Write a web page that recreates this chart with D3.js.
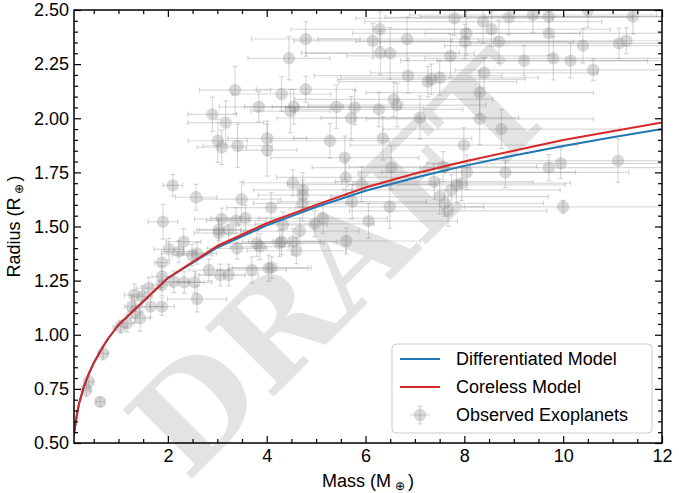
<!DOCTYPE html>
<html lang="en">
<head>
  <meta charset="UTF-8" />
  <title>Mass-Radius relation</title>
  <script src="https://d3js.org/d3.v7.min.js"></script>
  <style>
    body { margin: 0; background: #fff; }
    svg { display: block; font-family: "Liberation Sans", Arial, sans-serif; }
    .axis text { font-size: 18px; fill: #000; }
    .axis path { display: none; }
    .axis line { stroke: #000; stroke-width: 1.2; }
  </style>
</head>
<body>
  <div id="chart"></div>

  <script>
    // model curves
    const modelMass = [0.1, 0.15, 0.2, 0.3, 0.4, 0.5, 0.6, 0.7, 0.8, 0.9, 1, 2, 3, 4, 5, 6, 7, 8, 9, 10, 11, 12];
    const diffRadius = [0.54, 0.62, 0.68, 0.76, 0.82, 0.87, 0.91, 0.95, 0.985, 1.015, 1.045, 1.262, 1.403, 1.505, 1.59, 1.665, 1.725, 1.78, 1.828, 1.872, 1.912, 1.95];
    const corelessRadius = [0.54, 0.62, 0.68, 0.76, 0.82, 0.87, 0.91, 0.95, 0.985, 1.015, 1.045, 1.262, 1.41, 1.515, 1.60, 1.68, 1.745, 1.80, 1.85, 1.90, 1.94, 1.98];

    // observed exoplanets
    const obsMass = [0.35, 0.40, 0.63, 0.69, 1.04, 1.17, 1.27, 1.32, 1.34, 1.44, 1.48, 1.61, 1.65, 1.88, 1.88, 1.88, 1.88, 1.90, 2.02, 2.10,
      2.12, 2.22, 2.32, 2.33, 2.49, 2.54, 2.57, 2.59, 2.59, 2.83, 2.90, 3.01, 3.03, 3.03, 3.06, 3.09, 3.09, 3.17, 3.23, 3.23,
      3.36, 3.38, 3.40, 3.41, 3.49, 3.57, 3.70, 3.80, 3.84, 3.86, 4.01, 4.01, 4.04, 4.09, 4.10, 4.26, 4.30, 4.30, 4.33, 4.45,
      4.48, 4.53, 4.53, 4.55, 4.60, 4.67, 4.73, 4.73, 4.73, 4.79, 4.79, 4.97, 5.14, 5.28, 5.41, 5.58, 5.60, 5.61, 5.71, 5.73,
      5.78, 5.92, 6.06, 6.15, 6.27, 6.29, 6.30, 6.35, 6.49, 6.50, 6.52, 6.57, 6.64, 6.84, 6.86, 7.10, 7.26, 7.33, 7.39, 7.50,
      7.50, 7.57, 7.60, 7.67, 7.72, 7.74, 7.80, 7.84, 7.95, 7.99, 8.01, 8.04, 8.05, 8.31, 8.31, 8.38, 8.40, 8.55, 8.70, 8.75,
      8.83, 8.90, 9.21, 9.39, 9.71, 9.71, 9.71, 9.80, 9.95, 10.0, 10.15, 10.40, 10.50, 10.61, 11.11, 11.13, 11.28, 11.41];
    const obsRadius = [0.745, 0.783, 0.69, 0.914, 1.037, 1.053, 1.13, 1.184, 1.106, 1.076, 1.176, 1.215, 1.13, 1.13, 1.23, 1.268, 1.333, 1.522, 1.395, 1.69,
      1.245, 1.384, 1.43, 1.242, 1.368, 1.242, 1.635, 1.376, 1.165, 1.299, 2.018, 1.896, 1.469, 1.484, 1.276, 1.866, 1.535, 1.98, 1.276, 1.484,
      2.13, 1.527, 1.399, 1.873, 1.626, 1.539, 1.299, 1.422, 2.053, 1.407, 1.907, 1.853, 1.307, 1.587, 1.31, 1.422, 2.112, 1.43, 1.507, 2.277,
      2.033, 1.702, 1.43, 2.053, 1.388, 1.479, 1.669, 1.645, 1.607, 2.366, 2.134, 1.512, 1.538, 1.896, 2.053, 1.818, 1.727, 1.433, 2.0, 1.615,
      2.05, 1.695, 1.525, 2.357, 2.041, 2.411, 2.302, 1.907, 1.591, 2.30, 1.772, 2.087, 2.061, 2.366, 2.197, 2.003, 2.169, 2.18, 1.707, 2.187,
      1.638, 1.776, 1.607, 1.572, 2.288, 1.669, 2.462, 1.692, 1.70, 1.876, 2.354, 2.392, 1.75, 2.118, 1.997, 2.446, 2.21, 2.411, 2.354, 1.95,
      1.75, 2.466, 2.266, 2.477, 2.469, 2.392, 1.772, 2.277, 1.792, 1.591, 2.266, 2.335, 2.50, 2.223, 1.804, 2.346, 2.358, 2.469];
    const obsMassErr = [0.08, 0.08, 0.08, 0.10, 0.15, 0.15, 0.15, 0.20, 0.15, 0.20, 0.20, 0.25, 0.25, 0.25, 0.20, 0.20, 0.15, 0.30, 0.30, 0.20,
      0.30, 0.35, 0.35, 0.40, 0.40, 0.35, 0.42, 0.40, 0.60, 0.40, 0.49, 0.60, 0.50, 0.45, 0.50, 0.50, 0.55, 0.77, 0.60, 0.60,
      0.72, 0.60, 0.60, 0.70, 0.80, 0.70, 0.70, 0.70, 0.80, 0.60, 0.80, 0.60, 0.80, 0.90, 0.80, 0.90, 1.00, 0.80, 0.90, 0.83,
      0.80, 1.00, 0.90, 1.00, 1.00, 1.20, 1.00, 0.90, 1.00, 1.10, 1.00, 1.20, 1.30, 1.20, 1.30, 1.50, 1.40, 1.50, 1.50, 1.50,
      1.40, 1.50, 1.80, 1.60, 1.70, 1.80, 1.60, 1.80, 1.90, 1.70, 1.60, 2.00, 1.80, 1.80, 1.90, 2.00, 1.80, 1.90, 2.00, 2.00,
      2.20, 1.90, 2.00, 2.00, 2.10, 2.20, 2.00, 2.20, 2.20, 2.30, 2.20, 2.30, 2.20, 2.30, 2.30, 2.40, 2.30, 2.40, 2.40, 2.40,
      2.50, 2.50, 2.50, 2.50, 2.60, 2.50, 2.60, 2.60, 2.70, 2.00, 2.70, 2.80, 2.80, 2.80, 3.00, 3.00, 3.00, 3.00];
    const obsRadiusErr = [0.03, 0.03, 0.02, 0.03, 0.03, 0.04, 0.05, 0.05, 0.05, 0.06, 0.05, 0.05, 0.05, 0.04, 0.05, 0.05, 0.04, 0.08, 0.05, 0.05,
      0.05, 0.05, 0.06, 0.05, 0.05, 0.05, 0.06, 0.05, 0.06, 0.05, 0.08, 0.10, 0.06, 0.05, 0.05, 0.08, 0.05, 0.10, 0.05, 0.05,
      0.11, 0.06, 0.05, 0.10, 0.08, 0.06, 0.06, 0.06, 0.07, 0.06, 0.08, 0.12, 0.06, 0.07, 0.05, 0.06, 0.08, 0.06, 0.06, 0.10,
      0.10, 0.06, 0.06, 0.08, 0.06, 0.06, 0.08, 0.07, 0.08, 0.08, 0.06, 0.06, 0.07, 0.08, 0.10, 0.10, 0.08, 0.06, 0.10, 0.08,
      0.08, 0.08, 0.08, 0.08, 0.08, 0.08, 0.10, 0.10, 0.10, 0.12, 0.10, 0.08, 0.10, 0.10, 0.08, 0.10, 0.07, 0.07, 0.08, 0.08,
      0.08, 0.07, 0.06, 0.07, 0.10, 0.07, 0.08, 0.08, 0.08, 0.08, 0.08, 0.10, 0.08, 0.10, 0.12, 0.10, 0.07, 0.08, 0.10, 0.09,
      0.07, 0.08, 0.07, 0.08, 0.08, 0.10, 0.06, 0.10, 0.07, 0.03, 0.08, 0.08, 0.08, 0.05, 0.10, 0.07, 0.06, 0.08];

    const xMajor = [2, 4, 6, 8, 10, 12];
    const yMajor = [0.5, 0.75, 1.0, 1.25, 1.5, 1.75, 2.0, 2.25, 2.5];

    const W = 679, H = 493;
    const m = { left: 74, right: 17, top: 10, bottom: 50 };

    const svg = d3.select("#chart").append("svg")
      .attr("width", W).attr("height", H);

    const x = d3.scaleLinear().domain([0.1, 12]).range([m.left, W - m.right]);
    const y = d3.scaleLinear().domain([0.5, 2.5]).range([H - m.bottom, m.top]);

    svg.append("clipPath").attr("id", "plot-clip")
      .append("rect")
      .attr("x", m.left).attr("y", m.top)
      .attr("width", W - m.left - m.right).attr("height", H - m.top - m.bottom);

    // watermark
    svg.append("text")
      .attr("transform", "translate(340,264) rotate(-45)")
      .attr("text-anchor", "middle")
      .attr("dominant-baseline", "central")
      .style("font-family", "'DejaVu Serif', serif")
      .style("font-weight", "bold")
      .style("font-size", "134px")
      .attr("fill", "#888")
      .attr("opacity", 0.23)
      .text("DRAFT");

    const obs = obsMass.map((d, i) => ({ m: d, r: obsRadius[i], me: obsMassErr[i], re: obsRadiusErr[i] }));

    const plot = svg.append("g").attr("clip-path", "url(#plot-clip)");

    const cap = 2.5;
    const eb = plot.append("g")
      .attr("stroke", "#808080").attr("stroke-opacity", 0.3).attr("stroke-width", 1.2);

    obs.forEach(d => {
      const g = eb.append("g");
      const x0 = x(d.m - d.me), x1 = x(d.m + d.me), yc = y(d.r);
      const y0 = y(d.r - d.re), y1 = y(d.r + d.re), xc = x(d.m);
      g.append("line").attr("x1", x0).attr("x2", x1).attr("y1", yc).attr("y2", yc);
      g.append("line").attr("x1", xc).attr("x2", xc).attr("y1", y0).attr("y2", y1);
      g.append("line").attr("x1", x0).attr("x2", x0).attr("y1", yc - cap).attr("y2", yc + cap);
      g.append("line").attr("x1", x1).attr("x2", x1).attr("y1", yc - cap).attr("y2", yc + cap);
      g.append("line").attr("x1", xc - cap).attr("x2", xc + cap).attr("y1", y0).attr("y2", y0);
      g.append("line").attr("x1", xc - cap).attr("x2", xc + cap).attr("y1", y1).attr("y2", y1);
    });

    plot.append("g").selectAll("circle")
      .data(obs)
      .join("circle")
      .attr("cx", d => x(d.m))
      .attr("cy", d => y(d.r))
      .attr("r", 6.2)
      .attr("fill", "#808080")
      .attr("fill-opacity", 0.3);

    // model lines
    const line = d3.line().x(d => x(d[0])).y(d => y(d[1]));
    plot.append("path")
      .datum(modelMass.map((d, i) => [d, diffRadius[i]]))
      .attr("fill", "none").attr("stroke", "#1f77b4").attr("stroke-width", 2)
      .attr("d", line);
    plot.append("path")
      .datum(modelMass.map((d, i) => [d, corelessRadius[i]]))
      .attr("fill", "none").attr("stroke", "#d62728").attr("stroke-width", 2)
      .attr("d", line);

    // axes, ticks pointing inward on all sides
    const xMinor = d3.range(0.5, 12.01, 0.5).filter(v => !xMajor.includes(v));
    const yMinor = d3.range(0.5, 2.501, 0.05).map(v => +v.toFixed(2)).filter(v => !yMajor.some(t => Math.abs(t - v) < 1e-6));

    const innerH = H - m.top - m.bottom, innerW = W - m.left - m.right;

    svg.append("g").attr("class", "axis")
      .attr("transform", `translate(0,${H - m.bottom})`)
      .call(d3.axisBottom(x).tickValues(xMajor).tickSize(-7).tickPadding(6).tickFormat(d3.format("d")));
    svg.append("g").attr("class", "axis")
      .attr("transform", `translate(0,${H - m.bottom})`)
      .call(d3.axisBottom(x).tickValues(xMinor).tickSize(-4).tickFormat(""));
    svg.append("g").attr("class", "axis")
      .attr("transform", `translate(0,${m.top})`)
      .call(d3.axisTop(x).tickValues(xMajor).tickSize(-7).tickFormat(""));
    svg.append("g").attr("class", "axis")
      .attr("transform", `translate(0,${m.top})`)
      .call(d3.axisTop(x).tickValues(xMinor).tickSize(-4).tickFormat(""));

    svg.append("g").attr("class", "axis")
      .attr("transform", `translate(${m.left},0)`)
      .call(d3.axisLeft(y).tickValues(yMajor).tickSize(-7).tickPadding(5).tickFormat(d3.format(".2f")));
    svg.append("g").attr("class", "axis")
      .attr("transform", `translate(${m.left},0)`)
      .call(d3.axisLeft(y).tickValues(yMinor).tickSize(-4).tickFormat(""));
    svg.append("g").attr("class", "axis")
      .attr("transform", `translate(${W - m.right},0)`)
      .call(d3.axisRight(y).tickValues(yMajor).tickSize(-7).tickFormat(""));
    svg.append("g").attr("class", "axis")
      .attr("transform", `translate(${W - m.right},0)`)
      .call(d3.axisRight(y).tickValues(yMinor).tickSize(-4).tickFormat(""));

    svg.append("rect")
      .attr("x", m.left).attr("y", m.top)
      .attr("width", innerW).attr("height", innerH)
      .attr("fill", "none").attr("stroke", "#000").attr("stroke-width", 1.5);

    // axis labels
    const xl = svg.append("text")
      .attr("x", m.left + innerW / 2).attr("y", 487)
      .attr("text-anchor", "middle").style("font-size", "18px");
    xl.append("tspan").text("Mass (M");
    xl.append("tspan").attr("dx", 4).attr("dy", 3).style("font-size", "12px").text("⊕");
    xl.append("tspan").attr("dx", 3).attr("dy", -3).text(")");

    const yl = svg.append("text")
      .attr("transform", `translate(20,${m.top + innerH / 2}) rotate(-90)`)
      .attr("text-anchor", "middle").style("font-size", "18px");
    yl.append("tspan").text("Radius (R");
    yl.append("tspan").attr("dx", 3).attr("dy", 3).style("font-size", "12px").text("⊕");
    yl.append("tspan").attr("dx", 3).attr("dy", -3).text(")");

    // legend
    const lg = svg.append("g").attr("transform", "translate(392,344)");
    lg.append("rect")
      .attr("width", 260).attr("height", 89).attr("rx", 4)
      .attr("fill", "#fff").attr("fill-opacity", 0.8)
      .attr("stroke", "#ccc").attr("stroke-width", 1);
    const items = [
      { label: "Differentiated Model", color: "#1f77b4", type: "line" },
      { label: "Coreless Model", color: "#d62728", type: "line" },
      { label: "Observed Exoplanets", color: "#808080", type: "point" }
    ];
    items.forEach((it, i) => {
      const cy = 15 + i * 28;
      const g = lg.append("g").attr("transform", `translate(0,${cy})`);
      if (it.type === "line") {
        g.append("line").attr("x1", 8).attr("x2", 48).attr("stroke", it.color).attr("stroke-width", 2);
      } else {
        const e = g.append("g").attr("stroke", "#808080").attr("stroke-opacity", 0.3).attr("stroke-width", 1.2);
        e.append("line").attr("x1", 18).attr("x2", 38);
        e.append("line").attr("x1", 28).attr("x2", 28).attr("y1", -9).attr("y2", 9);
        e.append("line").attr("x1", 28 - cap).attr("x2", 28 + cap).attr("y1", -9).attr("y2", -9);
        e.append("line").attr("x1", 28 - cap).attr("x2", 28 + cap).attr("y1", 9).attr("y2", 9);
        g.append("circle").attr("cx", 28).attr("r", 6.2).attr("fill", "#808080").attr("fill-opacity", 0.3);
      }
      g.append("text").attr("x", 64).attr("dy", "0.35em").style("font-size", "18px").text(it.label);
    });
  </script>
</body>
</html>
